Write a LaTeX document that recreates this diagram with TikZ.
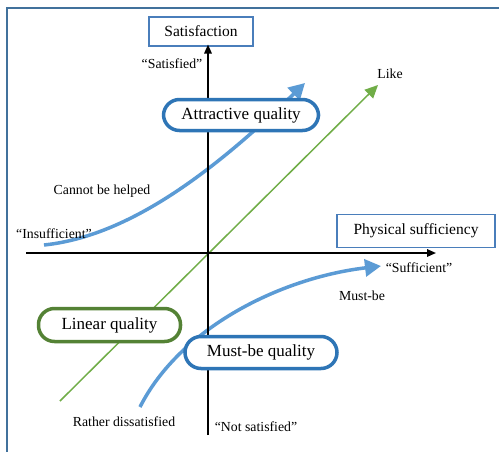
\documentclass[tikz,border=0pt]{standalone}
\usepackage{fontspec}
\setmainfont{Liberation Serif}
\usetikzlibrary{arrows.meta}
\definecolor{frameblue}{HTML}{41719C}
\definecolor{curveblue}{HTML}{5B9BD5}
\definecolor{boxblue}{HTML}{2E75B6}
\definecolor{linegreen}{HTML}{70AD47}
\definecolor{boxgreen}{HTML}{548235}
\definecolor{axisedge}{HTML}{4A7EBB}

\begin{document}
\begin{tikzpicture}[x=1pt,y=-1pt,
  axisbox/.style={draw=axisedge, line width=1.1pt, fill=white, inner sep=0pt,
    font=\fontsize{15.5}{18}\selectfont},
  qualitybox/.style={fill=white, line width=3.5pt, rounded corners=16pt,
    inner sep=0pt, font=\fontsize{17}{20}\selectfont},
  lbl/.style={font=\fontsize{13.8}{16}\selectfont, inner sep=0pt},
  axis/.style={line width=1.6pt, -{Triangle[length=9pt,width=7.5pt]}},
  bluecurve/.style={draw=curveblue, line width=3.5pt,
    -{Triangle[length=16pt,width=17pt]}},
  greenline/.style={draw=linegreen, line width=1.5pt,
    -{Triangle[length=13pt,width=12pt]}},
]
\useasboundingbox (0,0) rectangle (499,451);
\clip (0,0) rectangle (499,451);
\fill[white] (0,0) rectangle (499,451);

% outer frame (runs past the right and bottom edges)
\draw[frameblue, line width=2.2pt] (7,8) rectangle (530,480);

% key points of the chart
\coordinate (origin) at (208,253);
\coordinate (vbot) at (208,435);
\coordinate (hleft) at (26,253);
\coordinate (hright) at (436,253);
\coordinate (gstart) at (60,401);
\coordinate (gend) at (378,85);
\coordinate (astart) at (44,245);
\coordinate (aend) at (305,83);
\coordinate (mstart) at (140,407);
\coordinate (mend) at (381,266);

% axis titles
\node[axisbox, minimum width=104pt, minimum height=29pt] (sat) at (201,31.5) {Satisfaction};
\node[axisbox, minimum width=158pt, minimum height=33pt] (phys) at (416,231) {Physical sufficiency};

% curves and the linear line
\draw[greenline] (gstart) -- (gend);
\draw[bluecurve] (astart) .. controls (130,236) and (215,170) .. (aend);
\draw[bluecurve] (mstart) .. controls (180,328) and (280,278) .. (mend);

% axes
\draw[axis] (vbot) -- ([yshift=2pt]vbot |- sat.south);
\draw[axis] (hleft) -- (hright);

% quality labels
\node[qualitybox, draw=boxblue, minimum width=155pt, minimum height=31pt] (attr) at (241,115) {Attractive quality};
\node[qualitybox, draw=boxgreen, minimum width=142pt, minimum height=33pt] (lin) at (109.5,325) {Linear quality};
\node[qualitybox, draw=boxblue, minimum width=152pt, minimum height=32pt] (must) at (261,352.5) {Must-be quality};

% small texts
\node[lbl] (satisfied) at (172,64) {“Satisfied”};
\node[lbl] (like) at (390,74) {Like};
\node[lbl] (helped) at (102,191) {Cannot be helped};
\node[lbl] (insuff) at (54,234) {“Insufficient”};
\node[lbl] (suff) at (419,268) {“Sufficient”};
\node[lbl] (mustbe) at (362,296) {Must-be};
\node[lbl] (rather) at (124,422) {Rather dissatisfied};
\node[lbl] (notsat) at (256,427) {“Not satisfied”};
\end{tikzpicture}
\end{document}
